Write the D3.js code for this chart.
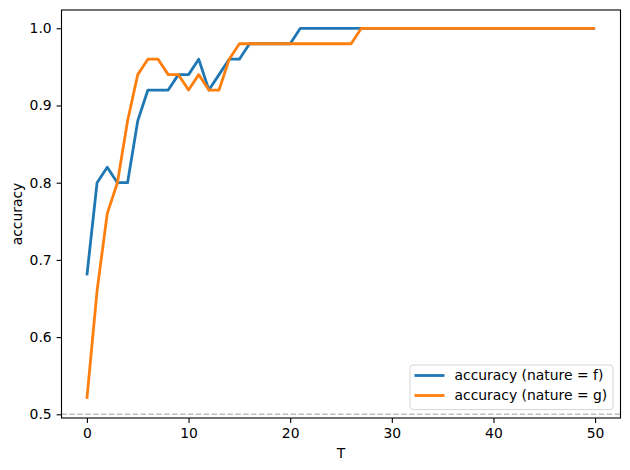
<!DOCTYPE html>
<html>
<head>
<meta charset="utf-8">
<script src="https://cdn.jsdelivr.net/npm/d3@7"></script>
<style>
  body { margin: 0; background: #fff; }
  svg text { font-family: "DejaVu Sans", sans-serif; fill: #000; }
</style>
</head>
<body>
<div id="chart"></div>
<script>
// T steps 0..50
const steps = d3.range(0, 51);
const accF = [0.68, 0.80, 0.82, 0.80, 0.80, 0.88, 0.92, 0.92, 0.92, 0.94,
  0.94, 0.96, 0.92, 0.94, 0.96, 0.96, 0.98, 0.98, 0.98, 0.98,
  0.98, 1.00, 1.00, 1.00, 1.00, 1.00, 1.00, 1.00, 1.00, 1.00,
  1.00, 1.00, 1.00, 1.00, 1.00, 1.00, 1.00, 1.00, 1.00, 1.00,
  1.00, 1.00, 1.00, 1.00, 1.00, 1.00, 1.00, 1.00, 1.00, 1.00, 1.00];
const accG = [0.52, 0.66, 0.76, 0.80, 0.88, 0.94, 0.96, 0.96, 0.94, 0.94,
  0.92, 0.94, 0.92, 0.92, 0.96, 0.98, 0.98, 0.98, 0.98, 0.98,
  0.98, 0.98, 0.98, 0.98, 0.98, 0.98, 0.98, 1.00, 1.00, 1.00,
  1.00, 1.00, 1.00, 1.00, 1.00, 1.00, 1.00, 1.00, 1.00, 1.00,
  1.00, 1.00, 1.00, 1.00, 1.00, 1.00, 1.00, 1.00, 1.00, 1.00, 1.00];
const seriesNames = ["accuracy (nature = f)", "accuracy (nature = g)"];
const seriesColors = ["#1f77b4", "#ff7f0e"];
const xTicks = [0, 10, 20, 30, 40, 50];
const yTicks = [0.5, 0.6, 0.7, 0.8, 0.9, 1.0];
const chance = 0.5;

const W = 630, H = 470;
const margin = { top: 10, right: 9.5, bottom: 52, left: 61.5 };
const width = W - margin.left - margin.right;
const height = H - margin.top - margin.bottom;

const svg = d3.select("#chart").append("svg")
  .attr("width", W)
  .attr("height", H);

const g = svg.append("g")
  .attr("transform", `translate(${margin.left},${margin.top})`);

const x = d3.scaleLinear().domain([-2.5, 52.5]).range([0, width]);
const y = d3.scaleLinear().domain([0.4952, 1.0237]).range([height, 0]);

// dashed reference line at chance level
g.append("line")
  .attr("x1", 0).attr("x2", width)
  .attr("y1", y(chance)).attr("y2", y(chance))
  .attr("stroke", "#bfbfbf")
  .attr("stroke-width", 1.5)
  .attr("stroke-dasharray", "5.5,2.4");

const line = d3.line()
  .x((d, i) => x(steps[i]))
  .y(d => y(d));

[accF, accG].forEach((vals, k) => {
  g.append("path")
    .datum(vals)
    .attr("fill", "none")
    .attr("stroke", seriesColors[k])
    .attr("stroke-width", 2.8)
    .attr("stroke-linejoin", "round")
    .attr("d", line);
});

// axes
const xAxis = g.append("g")
  .attr("transform", `translate(0,${height})`)
  .call(d3.axisBottom(x).tickValues(xTicks).tickSize(4.9).tickPadding(4.9).tickFormat(d3.format("d")));
const yAxis = g.append("g")
  .call(d3.axisLeft(y).tickValues(yTicks).tickSize(4.9).tickPadding(4.9).tickFormat(d3.format(".1f")));

[xAxis, yAxis].forEach(a => {
  a.select(".domain").remove();
  a.selectAll(".tick line").attr("stroke", "#000").attr("stroke-width", 1.1);
  a.selectAll(".tick text").style("font-size", "13.9px").style("font-family", "DejaVu Sans");
});

// frame
g.append("rect")
  .attr("width", width).attr("height", height)
  .attr("fill", "none")
  .attr("stroke", "#000")
  .attr("stroke-width", 1.1);

// axis labels
svg.append("text")
  .attr("x", margin.left + width / 2)
  .attr("y", 458)
  .attr("text-anchor", "middle")
  .style("font-size", "13.9px")
  .text("T");

svg.append("text")
  .attr("transform", `translate(22,${margin.top + height / 2}) rotate(-90)`)
  .attr("text-anchor", "middle")
  .style("font-size", "13.9px")
  .text("accuracy");

// legend
const leg = svg.append("g").attr("transform", "translate(410,365)");
leg.append("rect")
  .attr("width", 203).attr("height", 44.5)
  .attr("rx", 3)
  .attr("fill", "#fff").attr("fill-opacity", 0.8)
  .attr("stroke", "#d6d6d6").attr("stroke-width", 1);

seriesNames.forEach((name, k) => {
  const yy = 10.5 + k * 20;
  leg.append("line")
    .attr("x1", 4.5).attr("x2", 34.5)
    .attr("y1", yy).attr("y2", yy)
    .attr("stroke", seriesColors[k])
    .attr("stroke-width", 2.8);
  leg.append("text")
    .attr("x", 44.5)
    .attr("y", yy)
    .attr("dy", "0.35em")
    .style("font-size", "13.9px")
    .text(name);
});
</script>
</body>
</html>
